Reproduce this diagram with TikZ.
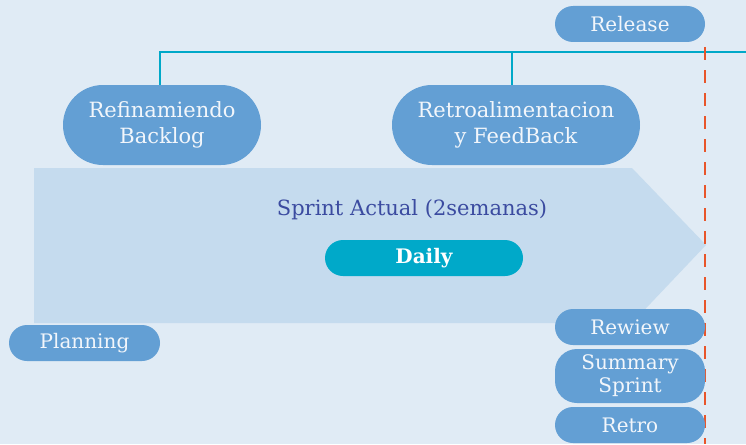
\documentclass[tikz,border=0pt]{standalone}
\usepackage{fontspec}
\setmainfont{DejaVu Serif}
\definecolor{bg}{HTML}{E0EBF5}
\definecolor{arrowc}{HTML}{C5DBEE}
\definecolor{pill}{HTML}{639FD4}
\definecolor{teal}{HTML}{00A8C8}
\definecolor{dailyc}{HTML}{00A9C9}
\definecolor{redd}{HTML}{E8552A}
\definecolor{txtc}{HTML}{F2F6FB}
\definecolor{sprintc}{HTML}{3B4BA0}
\begin{document}
\begin{tikzpicture}[x=1pt,y=-1pt,
  pillbox/.style={fill=pill, rounded corners=18pt, text=txtc, align=center, font=\fontsize{20}{24}\selectfont, inner sep=0pt},
  bigpill/.style={fill=pill, rounded corners=40pt, text=txtc, align=center, font=\fontsize{21}{26}\selectfont, inner sep=0pt},
  conn/.style={draw=teal, line width=2.6pt},
]
\fill[bg] (0,0) rectangle (746,444);
\useasboundingbox (0,0) rectangle (746,444);
% sprint arrow
\fill[arrowc] (34,168) -- (632,168) -- (706,245) -- (632,323) -- (34,323) -- cycle;
% connectors
\coordinate (lineend) at (746,52);
\coordinate (corner1) at (160,52);
\coordinate (mid) at (512,52);
% nodes
\node[pillbox, minimum width=150pt, minimum height=36pt] (release) at (630,24) {Release};
\node[bigpill, minimum width=198pt, minimum height=80pt] (refine) at (162,125) {Refinamiendo\\Backlog};
\node[bigpill, minimum width=248pt, minimum height=80pt] (retroal) at (516,125) {Retroalimentacion\\y FeedBack};
\draw[conn] (refine.north -| corner1) -- (corner1) -- (lineend);
\draw[conn] (retroal.north -| mid) -- (mid);
\node[text=sprintc, font=\fontsize{21}{24}\selectfont] (sprint) at (412,210) {Sprint Actual (2semanas)};
\node[fill=dailyc, rounded corners=18pt, minimum width=198pt, minimum height=36pt, inner sep=0pt, text=white, font=\bfseries\fontsize{20}{24}\selectfont] (daily) at (424,258) {Daily};
\node[pillbox, minimum width=151pt, minimum height=36pt] (planning) at (84.5,343) {Planning};
% release dashed line
\coordinate (dtop) at (705,47);
\coordinate (dbot) at (705,444);
\draw[redd, line width=2.2pt, dash pattern=on 13pt off 10pt] (dtop) -- (dbot);
\node[pillbox, minimum width=150pt, minimum height=36pt] (rewiew) at (630,327) {Rewiew};
\node[pillbox, rounded corners=22pt, minimum width=150pt, minimum height=54pt, font=\fontsize{20}{23}\selectfont] (summary) at (630,376) {Summary\\Sprint};
\node[pillbox, minimum width=150pt, minimum height=36pt] (retro) at (630,425) {Retro};
\end{tikzpicture}
\end{document}
